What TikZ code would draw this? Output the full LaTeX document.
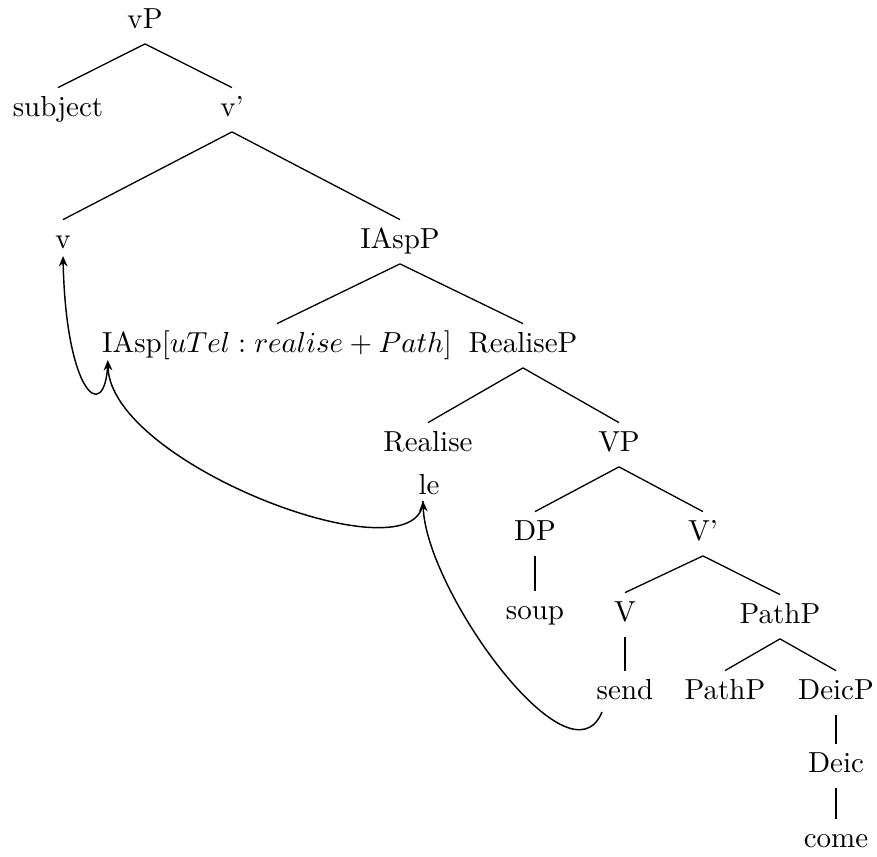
\documentclass[tikz,border=0pt]{standalone}
\usepackage{tikz}
\usetikzlibrary{arrows.meta,positioning,calc}

\begin{document}
\begin{tikzpicture}[x=0.345pt, y=-0.345pt,
    cat/.style={inner sep=3pt, text height=6.94pt, text depth=1.94pt, anchor=base},
    branch/.style={line width=0.45pt},
    move/.style={line width=0.5pt, -{Stealth[length=3.6pt,width=3pt]}}]
  \useasboundingbox (0,0) rectangle (877,857);
  % categories, row by row (baselines)
  \node[cat] (vP)       at (145, 29)  {vP};
  \node[cat] (subj)     at (58, 117)  {subject};
  \node[cat] (vbar)     at (232, 117) {v'};
  \node[cat] (v)        at (63, 249)  {v};
  \node[cat] (IAspP)    at (400, 249) {IAspP};
  \node[cat] (IAsp)     at (277, 353) {IAsp$[uTel:realise+Path]$};
  \node[cat] (RealiseP) at (523, 353) {RealiseP};
  \node[cat] (Realise)  at (428, 452) {Realise};
  \node[cat] (VP)       at (619, 452) {VP};
  \node[cat] (le)       at (429, 495) {le};
  \node[cat] (DP)       at (535, 541) {DP};
  \node[cat] (Vbar)     at (703, 541) {V'};
  \node[cat] (soup)     at (535, 620) {soup};
  \node[cat] (V)        at (625, 622) {V};
  \node[cat] (PathP)    at (780, 624) {PathP};
  \node[cat] (send)     at (625, 700) {send};
  \node[cat] (PathPlo)  at (725, 700) {PathP};
  \node[cat] (DeicP)    at (836, 700) {DeicP};
  \node[cat] (Deic)     at (836, 773) {Deic};
  \node[cat] (come)     at (836, 848) {come};
  % branches
  \foreach \a/\b in {vP/subj, vP/vbar, vbar/v, vbar/IAspP, IAspP/IAsp, IAspP/RealiseP,
                     RealiseP/Realise, RealiseP/VP, VP/DP, VP/Vbar, DP/soup, Vbar/V,
                     Vbar/PathP, V/send, PathP/PathPlo, PathP/DeicP, DeicP/Deic, Deic/come}
    \draw[branch] (\a.south) -- (\b.north);
  % head movement
  \coordinate (iaspTip) at ($(IAsp.base west)+(15,7)$);
  \coordinate (iaspOut) at ($(IAsp.base west)+(15,11)$);
  \coordinate (vTip)    at ($(v.base)+(0,7)$);
  \coordinate (leTip)   at ($(le.base)+(-6,6)$);
  \coordinate (sendOut) at ($(send.base)+(-23,12)$);
  \draw[move] (iaspOut) .. controls +(-3,61) and +(3,139) .. (vTip);
  \draw[move] (leTip) .. controls +(-3,80) and +(2,105) .. (iaspTip);
  \draw[move] (sendOut) .. controls +(-32,78) and +(3,90) .. (leTip);
\end{tikzpicture}
\end{document}
